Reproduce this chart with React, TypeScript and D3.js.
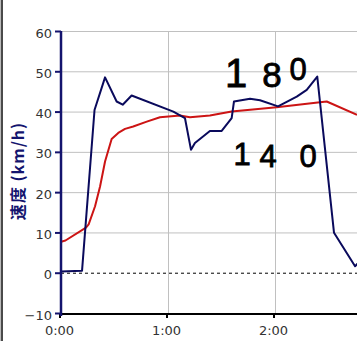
import React from "react";
import * as d3 from "d3";

const blueTime = [0, 11.8, 18.8, 24.7, 31.2, 34.6, 39.6, 63.0, 69.5, 72.9, 75.1, 83.5, 90.1, 95.7, 97.0, 106.0, 111.6, 121.7, 132.2, 137.8, 143.7, 153.1, 164.9, 170];
const blueSpeed = [0.3, 0.5, 40.4, 48.5, 42.5, 41.7, 44.0, 40.0, 38.4, 30.5, 32.2, 35.2, 35.2, 38.4, 42.5, 43.2, 42.8, 41.3, 43.7, 45.4, 48.7, 9.9, 1.6, 4];
const redTime = [0, 2.5, 14, 15.5, 19.1, 21.9, 24.7, 28.4, 32.1, 35.9, 40.5, 48.1, 55.5, 66.7, 72.3, 83.5, 95.7, 120.9, 145.2, 149, 166];
const redSpeed = [7.7, 8.0, 11.2, 12.0, 16.5, 21.4, 27.6, 33.2, 34.7, 35.7, 36.3, 37.5, 38.6, 39.0, 38.6, 39.0, 40.0, 41.1, 42.3, 42.5, 39.2];
const xTickValues = [0, 60, 120];
const yTickValues = [-10, 0, 10, 20, 30, 40, 50, 60];
const yTitle = "速度 (km/h)";
const note180 = ["1", "8", "0"];
const note140 = ["1", "4", "0"];

const W = 357;
const H = 341;

export default function App() {
  const x = d3.scaleLinear().domain([0, 180]).range([61, 382]);
  const y = d3.scaleLinear().domain([-10, 60]).range([313, 31]);
  const fmt = (s: number) => `${Math.floor(s / 60)}:${String(Math.round(s % 60)).padStart(2, "0")}`;

  const line = d3
    .line<[number, number]>()
    .x((d) => x(d[0]))
    .y((d) => y(d[1]));
  const blueData = blueTime.map((t, i) => [t, blueSpeed[i]] as [number, number]);
  const redData = redTime.map((t, i) => [t, redSpeed[i]] as [number, number]);

  const navy = "#14146e";
  const tickFont = "DejaVu Sans, Verdana, sans-serif";

  return (
    <svg
      width={W}
      height={H}
      style={{ position: "fixed", left: 0, top: 0, background: "#fff", display: "block" }}
    >
      <rect x={0} y={0} width={W} height={H} fill="#fff" />
      <rect x={0} y={0} width={1} height={H} fill="#bbb" />
      <rect x={1} y={0} width={2} height={H} fill="#4a4a4a" />

      <defs>
        <clipPath id="plot">
          <rect x={x(0)} y={0} width={W - x(0)} height={y(-10)} />
        </clipPath>
      </defs>

      {/* gridlines */}
      {yTickValues
        .filter((v) => v > 0)
        .map((v) => (
          <line key={"gy" + v} x1={x(0)} x2={W} y1={y(v) + 0.5} y2={y(v) + 0.5} stroke="#c0c0c0" strokeWidth={1} />
        ))}
      {xTickValues
        .filter((v) => v > 0)
        .map((v) => (
          <line key={"gx" + v} x1={x(v) + 0.5} x2={x(v) + 0.5} y1={y(60)} y2={y(-10)} stroke="#c0c0c0" strokeWidth={1} />
        ))}

      {/* zero dashed line */}
      <line x1={x(0)} x2={W} y1={y(0) + 0.5} y2={y(0) + 0.5} stroke="#000" strokeWidth={1} strokeDasharray="3,3" />

      {/* series */}
      <g clipPath="url(#plot)">
        <path d={line(redData) || ""} fill="none" stroke="#cc1414" strokeWidth={2} strokeLinejoin="round" />
        <path d={line(blueData) || ""} fill="none" stroke="#0a0a5c" strokeWidth={2} strokeLinejoin="round" />
      </g>

      {/* x axis */}
      <line x1={x(0)} x2={W} y1={y(-10) + 1} y2={y(-10) + 1} stroke="#000" strokeWidth={2} />
      {xTickValues.map((v) => (
        <g key={"xt" + v}>
          <line x1={x(v) - 1} x2={x(v) - 1} y1={y(-10)} y2={y(-10) + 5} stroke="#000" strokeWidth={2} />
          <text
            x={x(v) - 1.5}
            y={335}
            textAnchor="middle"
            fontFamily={tickFont}
            fontSize={13}
            fill="#333"
          >
            {fmt(v)}
          </text>
        </g>
      ))}

      {/* y axis */}
      <line x1={x(0)} x2={x(0)} y1={y(60)} y2={y(-10) + 3} stroke={navy} strokeWidth={2.5} />
      {yTickValues.map((v) => (
        <g key={"yt" + v}>
          <line x1={x(0) - 6} x2={x(0)} y1={y(v) + 0.5} y2={y(v) + 0.5} stroke={navy} strokeWidth={2} />
          <text
            x={52}
            y={y(v) + 2}
            textAnchor="end"
            dominantBaseline="central"
            fontFamily={tickFont}
            fontSize={13}
            fill="#333"
          >
            {v < 0 ? "\u2212" + Math.abs(v) : v}
          </text>
        </g>
      ))}

      {/* y title */}
      <text
        transform={`translate(17,171) rotate(-90)`}
        textAnchor="middle"
        dominantBaseline="central"
        fontFamily="Noto Sans CJK JP, sans-serif"
        fontWeight="bold"
        fontSize={16}
        letterSpacing={1}
        fill={navy}
      >
        {yTitle}
      </text>

      {/* handwritten notes */}
      <g fontFamily="Liberation Sans, Arial, sans-serif" fill="#000" stroke="#000" strokeWidth={0.8} textAnchor="middle">
        <text x={236} y={87} fontSize={40}>{note180[0]}</text>
        <text x={272} y={87} fontSize={35}>{note180[1]}</text>
        <text x={298} y={80} fontSize={31}>{note180[2]}</text>
        <text x={242} y={165} fontSize={31}>{note140[0]}</text>
        <text x={268} y={167} fontSize={31}>{note140[1]}</text>
        <text x={308} y={167} fontSize={31}>{note140[2]}</text>
      </g>
    </svg>
  );
}
